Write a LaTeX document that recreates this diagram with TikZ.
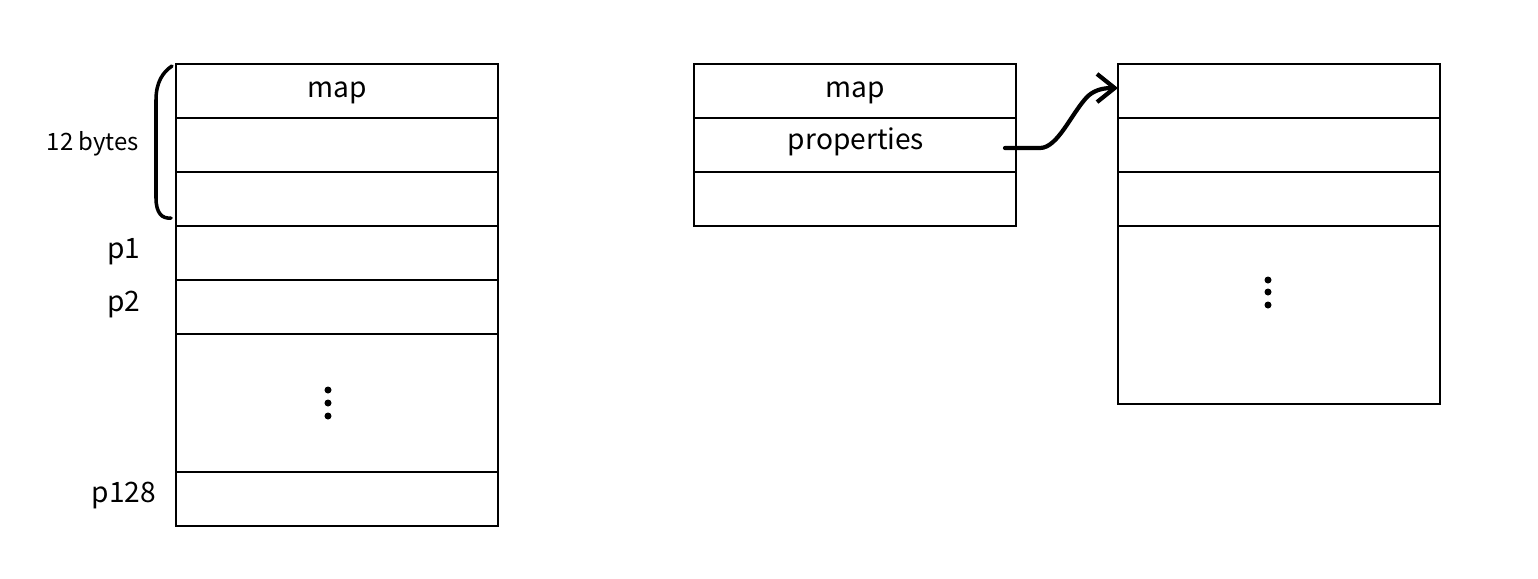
\documentclass[tikz,border=0pt]{standalone}
\usepackage{fontspec}
\setmainfont{Noto Sans CJK SC}
\usetikzlibrary{arrows.meta}
\begin{document}
\begin{tikzpicture}[x=0.01cm,y=-0.01cm,
  cell/.style={draw,line width=0.6pt,minimum width=3.22cm,minimum height=0.54cm,inner sep=0pt,outer sep=0pt,anchor=north west},
  tall/.style={cell,minimum height=1.38cm},
  rtall/.style={cell,minimum height=1.78cm},
  lbl/.style={font=\fontsize{8}{9}\selectfont,inner sep=0pt},
  small/.style={font=\fontsize{6.8}{8}\selectfont,inner sep=0pt},
  txt/.style={font=\fontsize{8}{9}\selectfont,inner sep=0pt,anchor=base},
  dot/.style={fill=black,circle,inner sep=0pt,minimum size=0.07cm}]
\useasboundingbox (0,0) rectangle (1538,578);
% left column
\node[cell] (l1) at (176,64) {};
\node[txt] (l1t) at (337,97) {map};
\node[cell] (l2) at (176,118) {};
\node[cell] (l3) at (176,172) {};
\node[cell] (l4) at (176,226) {};
\node[cell] (l5) at (176,280) {};
\node[tall] (l6) at (176,334) {};
\node[cell] (l7) at (176,472) {};
\node[dot] (ld1) at (328,390) {};
\node[dot] (ld2) at (328,403) {};
\node[dot] (ld3) at (328,416) {};
\node[lbl] (p1) at (124,252) {p1};
\node[lbl] (p2) at (124,305) {p2};
\node[lbl] (p128) at (124,496) {p128};
\node[small] (bytes) at (93,144) {12 bytes};
\draw[line width=1pt,line cap=round] (l1.north west)+(-4,2) .. controls (163,72) and (156,82) .. (156,100) -- (156,198) .. controls (156,213) and (162,219) .. (171,218);
% middle
\node[cell] (m1) at (694,64) {};
\node[txt] (m1t) at (855,97) {map};
\node[cell] (m2) at (694,118) {};
\node[txt] (m2t) at (856,149) {properties};
\node[cell] (m3) at (694,172) {};
% right
\node[cell] (r1) at (1118,64) {};
\node[cell] (r2) at (1118,118) {};
\node[cell] (r3) at (1118,172) {};
\node[rtall] (r4) at (1118,226) {};
\node[dot] (rd1) at (1268,280) {};
\node[dot] (rd2) at (1268,292) {};
\node[dot] (rd3) at (1268,305) {};
\coordinate (start) at (1005,148);
\coordinate (tip) at (1118,88);
\draw[line width=1.2pt,line cap=round,-{Straight Barb[length=5pt,width=8pt,line width=1.2pt]}] (start) -- (1040,148) .. controls (1058,148) and (1072,112) .. (1088,96) .. controls (1096,89) and (1105,88) .. (tip);
\end{tikzpicture}
\end{document}
